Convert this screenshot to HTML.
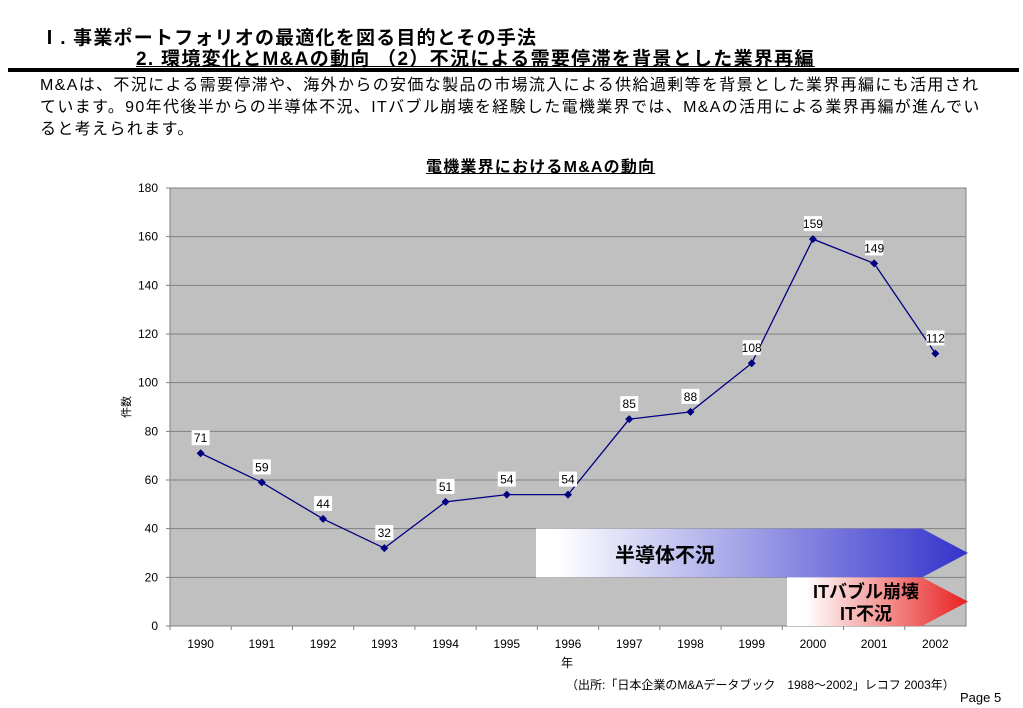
<!DOCTYPE html>
<html><head><meta charset="utf-8">
<style>
body{margin:0;width:1023px;height:708px;background:#fff;font-family:"Liberation Sans","Noto Sans CJK JP",sans-serif;overflow:hidden;position:relative}
.t{position:absolute;white-space:nowrap;color:#000}
</style></head><body>
<div class="t" style="left:40px;top:23px;font-size:19px;font-weight:bold;letter-spacing:1.2px;">Ⅰ. 事業ポートフォリオの最適化を図る目的とその手法</div>
<div class="t" style="left:136px;top:44px;font-size:19px;font-weight:bold;letter-spacing:1.3px;text-decoration:underline;">2. 環境変化とM&amp;Aの動向 （2）不況による需要停滞を背景とした業界再編</div>
<div style="position:absolute;left:8px;top:68px;width:1011px;height:4px;background:#000"></div>
<div class="t" style="left:40px;top:75px;font-size:16px;line-height:22px;letter-spacing:1.35px;">M&amp;Aは、不況による需要停滞や、海外からの安価な製品の市場流入による供給過剰等を背景とした業界再編にも活用され<br>ています。90年代後半からの半導体不況、ITバブル崩壊を経験した電機業界では、M&amp;Aの活用による業界再編が進んでい<br>ると考えられます。</div>
<div class="t" style="left:426px;top:153px;font-size:16px;font-weight:bold;letter-spacing:1.2px;text-decoration:underline;">電機業界におけるM&amp;Aの動向</div>
<svg id="chart" width="1023" height="708" style="position:absolute;left:0;top:0">
<defs>
<linearGradient id="gb" x1="0" x2="1"><stop offset="0.05" stop-color="#fff"/><stop offset="1" stop-color="#3333cc"/></linearGradient>
<linearGradient id="gr" x1="0" x2="1"><stop offset="0.1" stop-color="#fff"/><stop offset="1" stop-color="#e82020"/></linearGradient>
</defs>
<g id="g"></g>
</svg>
<div class="t" style="left:566px;top:676px;font-size:12px;">（出所:「日本企業のM&amp;Aデータブック　1988～2002」レコフ 2003年）</div>
<div class="t" style="left:960px;top:690px;font-size:13px;">Page 5</div>
<script>
const years=["1990","1991","1992","1993","1994","1995","1996","1997","1998","1999","2000","2001","2002"];
const counts=[71,59,44,32,51,54,54,85,88,108,159,149,112];
const yTicks=[0,20,40,60,80,100,120,140,160,180];
const L=170,R=966,T=188,B=626,YMAX=180;
const bw=(R-L)/years.length;
const xs=i=>L+bw*(i+0.5);
const ys=v=>B-(v/YMAX)*(B-T);
const g=document.getElementById('g');
const NS='http://www.w3.org/2000/svg';
function mk(t,a){const e=document.createElementNS(NS,t);for(const k in a)e.setAttribute(k,a[k]);g.appendChild(e);return e;}
let e=mk('rect',{x:L,y:T,width:R-L,height:B-T,fill:'#c0c0c0',stroke:'#808080'});


yTicks.forEach(v=>{
  const l=mk('line',{x1:L-4,x2:R,y1:ys(v),y2:ys(v),stroke:'#808080','stroke-width':1});
  
  
  const t=mk('text',{x:L-12,y:ys(v)+4,'text-anchor':'end','font-size':12});
  t.textContent=v;
  
  
});
years.forEach((y,i)=>{
  const tk=mk('line',{x1:L+bw*i,x2:L+bw*i,y1:B,y2:B+4,stroke:'#808080'});
  
  
  const t=mk('text',{x:xs(i),y:B+22,'text-anchor':'middle','font-size':12});
  t.textContent=y;
  
  
});
const bx=536,hx=922,tip=968;
e=mk('polygon',{points:`${bx},${ys(40)} ${hx},${ys(40)} ${tip},${ys(30)} ${hx},${ys(20)} ${bx},${ys(20)}`,fill:'url(#gb)'});


e=mk('text',{x:665,y:562,'text-anchor':'middle','font-size':20,'font-weight':'bold'});e.textContent='半導体不況';


e=mk('polygon',{points:`787,${ys(20)} ${hx},${ys(20)} ${tip},${ys(10)} ${hx},${ys(0)} 787,${ys(0)}`,fill:'url(#gr)'});


e=mk('text',{x:866,y:598,'text-anchor':'middle','font-size':18,'font-weight':'bold'});e.textContent='ITバブル崩壊';


e=mk('text',{x:866,y:620,'text-anchor':'middle','font-size':18,'font-weight':'bold'});e.textContent='IT不況';


e=mk('polyline',{points:counts.map((v,i)=>xs(i)+','+ys(v)).join(' '),fill:'none',stroke:'#000080','stroke-width':1.3});


counts.forEach((v,i)=>{
  const x=xs(i),y=ys(v);
  const p=mk('polygon',{points:`${x},${y-4} ${x+4},${y} ${x},${y+4} ${x-4},${y}`,fill:'#000080'});
  
  
  const r=mk('rect',{x:x-9,y:y-23,width:18,height:15,fill:'#fff'});
  
  
  const t=mk('text',{x:x,y:y-11,'text-anchor':'middle','font-size':12});
  t.textContent=v;
  
  
});
e=mk('text',{x:130,y:407,'text-anchor':'middle','font-size':11,transform:'rotate(-90 130 407)'});e.textContent='件数';


e=mk('text',{x:567,y:667,'text-anchor':'middle','font-size':12});e.textContent='年';


</script>
</body></html>
